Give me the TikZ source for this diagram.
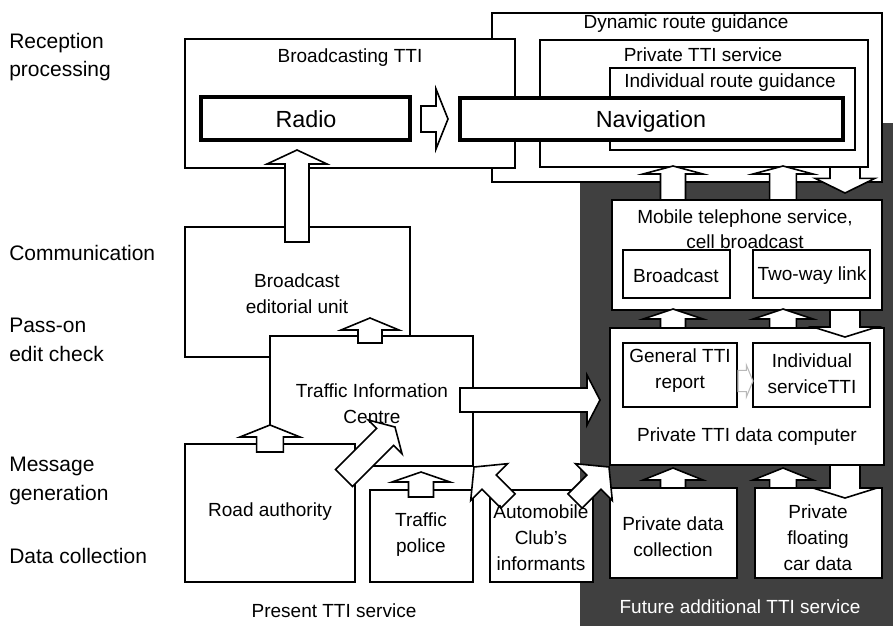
\documentclass[tikz,border=0pt]{standalone}
\usepackage{fontspec}
\setmainfont{Liberation Sans}
\usetikzlibrary{fit,calc}
\definecolor{darkbg}{gray}{0.25}
\tikzset{
  box/.style={draw, line width=1.5pt, fill=white, inner sep=0pt, outer sep=0pt},
  heavybox/.style={draw, line width=2.6pt, fill=white, inner sep=0pt, outer sep=0pt},
  txt/.style={font=\fontsize{14.25}{19.5}\selectfont, align=center, inner sep=0pt},
  bigtxt/.style={font=\fontsize{17.5}{21}\selectfont, inner sep=0pt},
  lbl/.style={font=\fontsize{15.75}{21.5}\selectfont, align=left, anchor=west, inner sep=0pt},
  blk/.style={draw, line width=1.2pt, fill=white, line join=miter},
  faint/.style={draw=gray!55, line width=0.8pt},
}
\newcommand\blkarrow[6][]{%
  \coordinate (ba-b) at ($(#3)!#6!(#2)$);
  \draw[blk,#1] ($(#2)!#4!90:(#3)$) -- ($(ba-b)!#4!-90:(#2)$) -- ($(ba-b)!#5!-90:(#2)$) -- (#3) -- ($(ba-b)!#5!90:(#2)$) -- ($(ba-b)!#4!90:(#2)$) -- ($(#2)!#4!-90:(#3)$) -- cycle;}
\begin{document}
\begin{tikzpicture}[x=0.75pt,y=-0.75pt]
\useasboundingbox (0,0) rectangle (893,626);
\fill[white] (0,0) rectangle (893,626);
\fill[darkbg] (580,123) rectangle (893,626);
% top boxes
\node[box, fit={(492,13) (882,182)}] (drg) {};
\node[box, fit={(185,39) (515,168)}] (btti) {};
\node[box, fit={(540,40) (868,167)}] (ptti) {};
\node[box, fit={(610,68) (855,150)}] (irg) {};
\node[heavybox, fit={(201,97) (410,140)}] (radio) {};
\node[heavybox, fit={(460,98) (843,140)}] (nav) {};
% left boxes
\node[box, fit={(185,227) (410,357)}] (beu) {};
\node[box, fit={(270,336) (473,466)}] (tic) {};
\node[box, fit={(185,444) (355,582)}] (ra) {};
\node[box, fit={(370,490) (473,582)}] (tp) {};
\node[box, fit={(490,490) (593,582)}] (ac) {};
% right boxes
\node[box, fit={(612,200) (882,310)}] (mob) {};
\node[box, fit={(623,250) (730,298)}] (bc) {};
\node[box, fit={(753,250) (870,298)}] (twl) {};
\node[box, fit={(610,328) (884,465)}] (comp) {};
\node[box, fit={(623,343) (737,407)}] (gen) {};
\node[box, fit={(753,343) (870,407)}] (ind) {};
\node[box, fit={(610,488) (737,578)}] (pdc) {};
\node[box, fit={(755,488) (882,578)}] (pfcd) {};
% arrow end points
\coordinate (a1s) at (297,242); \coordinate (a1e) at (297,150);
\coordinate (a2s) at (421,119); \coordinate (a2e) at (448,119);
\coordinate (a3s) at (370,343); \coordinate (a3e) at (370,318);
\coordinate (a4s) at (270,452); \coordinate (a4e) at (270,425);
\coordinate (a5s) at (344,478); \coordinate (a5e) at (395,427);
\coordinate (a6s) at (421,497); \coordinate (a6e) at (421,472);
\coordinate (a7s) at (508,501); \coordinate (a7e) at (474,467);
\coordinate (a8s) at (575,501); \coordinate (a8e) at (609,467);
\coordinate (a9s) at (460,400); \coordinate (a9e) at (600,400);
\coordinate (u1s) at (673,200); \coordinate (u1e) at (673,166);
\coordinate (u2s) at (783,200); \coordinate (u2e) at (783,166);
\coordinate (d1s) at (845,167); \coordinate (d1e) at (845,193);
\coordinate (u3s) at (673,328); \coordinate (u3e) at (673,309);
\coordinate (u4s) at (783,328); \coordinate (u4e) at (783,309);
\coordinate (d2s) at (845,310); \coordinate (d2e) at (845,337);
\coordinate (u5s) at (673,488); \coordinate (u5e) at (673,468);
\coordinate (u6s) at (783,488); \coordinate (u6e) at (783,468);
\coordinate (d3s) at (845,465); \coordinate (d3e) at (845,498);
\coordinate (s1s) at (738,381); \coordinate (s1e) at (753,381);
% block arrows
\blkarrow{a1s}{a1e}{9pt}{22.5pt}{10.5pt}
\blkarrow{a2s}{a2e}{9.75pt}{22.5pt}{9pt}
\blkarrow{a3s}{a3e}{9pt}{21.75pt}{9pt}
\blkarrow{a4s}{a4e}{10pt}{22.5pt}{9pt}
\blkarrow{a5s}{a5e}{9pt}{18pt}{10.5pt}
\blkarrow{a6s}{a6e}{9.4pt}{21.75pt}{7.5pt}
\blkarrow{a7s}{a7e}{7.5pt}{19.5pt}{16pt}
\blkarrow{a8s}{a8e}{7.5pt}{19.5pt}{16pt}
\blkarrow{a9s}{a9e}{9pt}{18.75pt}{9.75pt}
\blkarrow{u1s}{u1e}{9.4pt}{22.5pt}{6pt}
\blkarrow{u2s}{u2e}{10pt}{22.5pt}{6pt}
\blkarrow{d1s}{d1e}{11.25pt}{22.5pt}{11pt}
\blkarrow{u3s}{u3e}{9.4pt}{22.5pt}{7.5pt}
\blkarrow{u4s}{u4e}{10pt}{22.5pt}{7.5pt}
\blkarrow{d2s}{d2e}{11.25pt}{24pt}{7.5pt}
\blkarrow{u5s}{u5e}{9.4pt}{22.5pt}{9pt}
\blkarrow{u6s}{u6e}{10pt}{22.5pt}{9pt}
\blkarrow{d3s}{d3e}{11.25pt}{24pt}{7.5pt}
\blkarrow[faint]{s1s}{s1e}{8pt}{12pt}{5pt}
% left labels
\node[lbl] (l1) at (9,57) {Reception\\processing};
\node[lbl] (l2) at (9,253) {Communication};
\node[lbl] (l3) at (9,340) {Pass-on\\edit check};
\node[lbl] (l4) at (9,481) {Message\\generation};
\node[lbl] (l5) at (9,556) {Data collection};
% texts
\node[txt] (t-drg) at (686,24) {Dynamic route guidance};
\node[txt] (t-ptti) at (703,55) {Private TTI service};
\node[txt] (t-irg) at (730,83) {Individual route guidance};
\node[txt] (t-btti) at (350,58) {Broadcasting TTI};
\node[bigtxt] (t-radio) at (306,119) {Radio};
\node[bigtxt] (t-nav) at (651,121) {Navigation};
\node[txt] (t-beu) at (297,294) {Broadcast\\editorial unit};
\node[txt] (t-tic) at (372,404) {Traffic Information\\Centre};
\node[txt] (t-ra) at (270,512) {Road authority};
\node[txt] (t-tp) at (421,535) {Traffic\\police};
\node[txt] (t-ac) at (541,538) {Automobile\\Club's\\informants};
\node[txt, font=\fontsize{14.25}{18.5}\selectfont] (t-mob) at (745,229) {Mobile telephone service,\\cell broadcast};
\node[txt] (t-bc) at (676,276) {Broadcast};
\node[txt] (t-twl) at (812,276) {Two-way link};
\node[txt] (t-gen) at (680,371) {General TTI\\report};
\node[txt] (t-ind) at (812,374) {Individual\\serviceTTI};
\node[txt] (t-comp) at (747,437) {Private TTI data computer};
\node[txt] (t-pdc) at (673,537) {Private data\\collection};
\node[txt] (t-pfcd) at (818,538) {Private\\floating\\car data};
\node[txt] (t-present) at (334,611) {Present TTI service};
\node[txt, text=white] (t-future) at (740,607) {Future additional TTI service};
\end{tikzpicture}
\end{document}
